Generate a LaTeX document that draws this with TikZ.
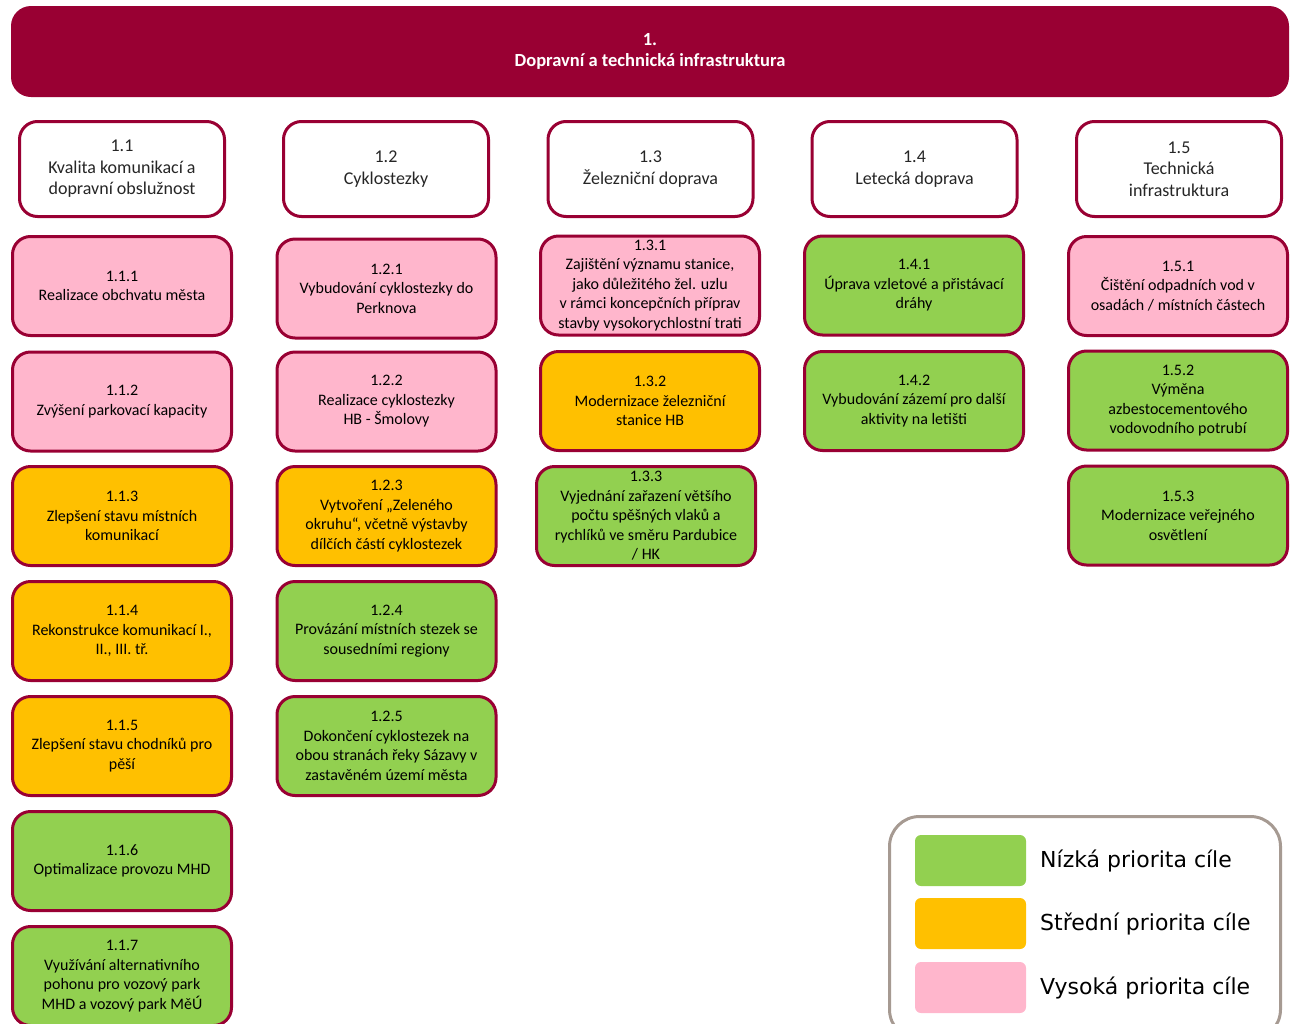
\documentclass[tikz,border=0pt]{standalone}
\usepackage{fontspec}
\setmainfont{Carlito}
\newfontfamily\legendfont{DejaVu Sans}
\usepackage{xcolor}
\usepackage{tikz}
\usetikzlibrary{shapes.misc}
\definecolor{vinered}{RGB}{153,0,51}
\definecolor{prlow}{RGB}{146,208,80}
\definecolor{prmid}{RGB}{255,192,0}
\definecolor{prhigh}{RGB}{255,182,204}
\definecolor{legendgray}{RGB}{166,154,146}
\definecolor{goaltext}{RGB}{38,38,38}

\begin{document}
\begin{tikzpicture}[x=1pt,y=-1pt,
        header/.style={fill=vinered,rounded corners=20pt,minimum width=1278pt,minimum height=91pt,inner sep=0pt,align=center,text=white,font=\bfseries\fontsize{18.5}{21}\selectfont},
        goal/.style={draw=vinered,line width=3pt,rounded corners=18pt,fill=white,minimum width=205pt,minimum height=95pt,inner sep=0pt,align=center,text=goaltext,font=\fontsize{18}{21.5}\selectfont},
        target/.style={draw=vinered,line width=3pt,rounded corners=18pt,minimum width=219pt,minimum height=99pt,inner sep=0pt,align=center,text=black,font=\fontsize{16}{19.5}\selectfont},
        low/.style={target,fill=prlow},
        mid/.style={target,fill=prmid},
        high/.style={target,fill=prhigh},
        swatch/.style={rounded corners=6pt,minimum width=111pt,minimum height=51pt,inner sep=0pt},
        legendtext/.style={anchor=base west,inner sep=0pt,font=\legendfont\fontsize{22}{26}\selectfont}]
        \useasboundingbox (0,0) rectangle (1295,1023);
        \clip (0,0) rectangle (1295,1023);
        \node (H) at (650,51.5) [header] {1.\\Dopravní a technická infrastruktura};
        \node (K1) at (122,169) [goal] {1.1\\Kvalita komunikací a\\dopravní obslužnost};
        \node (K2) at (386,169) [goal] {1.2\\Cyklostezky};
        \node (K3) at (650.5,169) [goal] {1.3\\Železniční doprava};
        \node (K4) at (914.5,169) [goal] {1.4\\Letecká doprava};
        \node (K5) at (1179,169) [goal] {1.5\\Technická\\infrastruktura};
        \node (K11) at (122,286) [high] {1.1.1\\Realizace obchvatu města};
        \node (K12) at (122,401.5) [high] {1.1.2\\Zvýšení parkovací kapacity};
        \node (K13) at (122,516) [mid] {1.1.3\\Zlepšení stavu místních\\komunikací};
        \node (K14) at (122,631) [mid] {1.1.4\\Rekonstrukce komunikací I.,\\II., III. tř.};
        \node (K15) at (122,746) [mid] {1.1.5\\Zlepšení stavu chodníků pro\\pěší};
        \node (K16) at (122,861) [low] {1.1.6\\Optimalizace provozu MHD};
        \node (K17) at (122,976) [low] {1.1.7\\Využívání alternativního\\pohonu pro vozový park\\MHD a vozový park MěÚ};
        \node (K21) at (386.5,288.5) [high] {1.2.1\\Vybudování cyklostezky do\\Perknova};
        \node (K22) at (386.5,401.5) [high] {1.2.2\\Realizace cyklostezky\\HB - Šmolovy};
        \node (K23) at (386.5,516) [mid] {1.2.3\\Vytvoření „Zeleného\\okruhu“,  včetně výstavby\\dílčích částí cyklostezek};
        \node (K24) at (386.5,631) [low] {1.2.4\\Provázání místních stezek se\\sousedními regiony};
        \node (K25) at (386.5,746) [low] {1.2.5\\Dokončení cyklostezek na\\obou stranách řeky Sázavy v\\zastavěném území města};
        \node (K31) at (650,285.5) [high] {1.3.1\\Zajištění významu stanice,\\jako důležitého žel. uzlu\\v rámci koncepčních příprav\\stavby vysokorychlostní trati};
        \node (K32) at (650,401) [mid] {1.3.2\\Modernizace železniční\\stanice HB};
        \node (K33) at (646,516) [low] {1.3.3\\Vyjednání zařazení většího\\počtu spěšných vlaků a\\rychlíků ve směru Pardubice\\/ HK};
        \node (K41) at (914,285.5) [low] {1.4.1\\Úprava vzletové a přistávací\\dráhy};
        \node (K42) at (914,401) [low] {1.4.2\\Vybudování zázemí pro další\\aktivity na letišti};
        \node (K51) at (1178,286) [high] {1.5.1\\Čištění odpadních vod v\\osadách / místních částech};
        \node (K52) at (1178,400.5) [low] {1.5.2\\Výměna\\azbestocementového\\vodovodního potrubí};
        \node (K53) at (1178,515.5) [low] {1.5.3\\Modernizace veřejného\\osvětlení};
        \node (L) at (1085,928) [draw=legendgray,line width=3pt,rounded corners=30pt,minimum width=391pt,minimum height=223pt,inner sep=0pt] {};
        \node (S1) at (970.5,860.5) [swatch,fill=prlow] {};
        \node (S2) at (970.5,923.5) [swatch,fill=prmid] {};
        \node (S3) at (970.5,987.5) [swatch,fill=prhigh] {};
        \node (T1) at (1040,867) [legendtext] {Nízká priorita cíle};
        \node (T2) at (1040,930) [legendtext] {Střední priorita cíle};
        \node (T3) at (1040,994) [legendtext] {Vysoká priorita cíle};
    \end{tikzpicture}
\end{document}
